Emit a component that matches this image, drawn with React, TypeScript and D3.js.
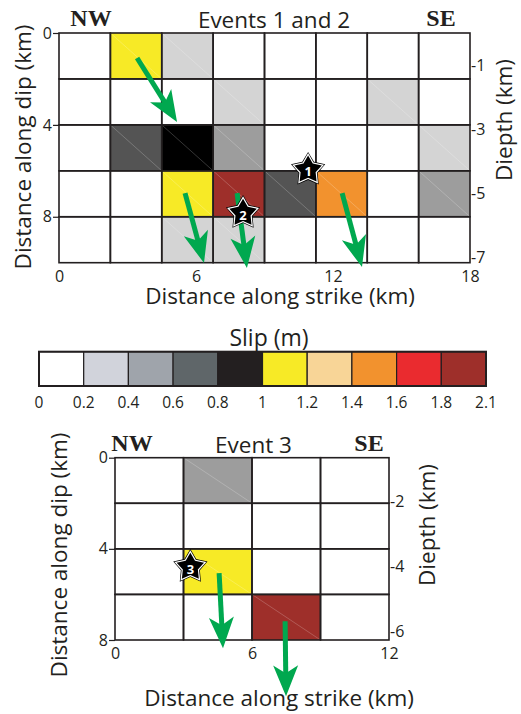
import React, { useEffect, useRef } from 'react';
import * as d3 from 'd3';

const W = 521;
const H = 714;
const FONT = '"Open Sans", "Noto Sans", sans-serif';

// colour bar
const slipBreaks = [0, 0.2, 0.4, 0.6, 0.8, 1, 1.2, 1.4, 1.6, 1.8, 2.1];
const barColors = ['#ffffff', '#d1d3db', '#9fa4ab', '#5f6669', '#231f20', '#f7ea26', '#f8d597', '#f2922e', '#ea2b2f', '#9e2f2a'];
const cellColors = ['#ffffff', '#d4d4d4', '#9d9d9d', '#545454', '#000000', '#f7ea26', '#f8d597', '#f2922e', '#ea2b2f', '#9e2f2a'];

// slip (m) per patch, rows = down dip, cols = along strike
const slipEvents12 = [
  [0, 1.1, 0.3, 0, 0, 0, 0, 0],
  [0, 0, 0, 0.3, 0, 0, 0.3, 0],
  [0, 0.7, 0.9, 0.5, 0, 0, 0, 0.3],
  [0, 0, 1.1, 1.95, 0.7, 1.5, 0, 0.5],
  [0, 0, 0.3, 0.3, 0, 0, 0, 0],
];
const slipEvent3 = [
  [0, 0.5, 0, 0],
  [0, 0, 0, 0],
  [0, 1.1, 0, 0],
  [0, 0, 1.95, 0],
];

// slip vectors [x1, y1, x2, y2] in km (strike, dip)
const arrowsEvents12 = [
  [3.42, 1.09, 5.17, 3.87],
  [5.52, 6.97, 6.35, 10.01],
  [7.8, 6.97, 8.23, 10.23],
  [12.4, 6.97, 13.27, 10.19],
];
const arrowsEvent3 = [
  [4.56, 5.07, 4.73, 8.36],
  [7.45, 7.18, 7.49, 10.47],
];

// hypocentres [strike, dip, label]
const starsEvents12: [number, number, string][] = [
  [10.91, 5.96, '1'],
  [8.06, 7.84, '2'],
];
const starsEvent3: [number, number, string][] = [[3.3, 4.8, '3']];

const strikeTicks12 = [0, 6, 12, 18];
const dipTicks12 = [0, 4, 8];
const depthTicks12 = [-1, -3, -5, -7];
const strikeTicks3 = [0, 6, 12];
const dipTicks3 = [0, 4, 8];
const depthTicks3 = [-2, -4, -6];

function starPath(R: number, r: number) {
  const pts = d3.range(10).map(i => {
    const a = -Math.PI / 2 + (i * Math.PI) / 5;
    const rr = i % 2 === 0 ? R : r;
    return [rr * Math.cos(a), rr * Math.sin(a)];
  });
  return 'M' + pts.map(p => p.join(',')).join('L') + 'Z';
}

function drawPanel(svg: any, o: any) {
  const g = svg.append('g');
  const nRows = o.slip.length;
  const nCols = o.slip[0].length;
  const x = d3.scaleLinear().domain([0, o.strikeMax]).range([o.x0, o.x1]);
  const y = d3.scaleLinear().domain([0, o.dipMax]).range([o.y0, o.y1]);
  const depth = d3.scaleLinear().domain(o.depthDomain).range([o.y0, o.y1]);
  const color = d3.scaleThreshold<number, string>().domain(slipBreaks.slice(1, -1)).range(cellColors);
  const cw = o.strikeMax / nCols;
  const rh = o.dipMax / nRows;

  const cells = o.slip.flatMap((row: number[], r: number) => row.map((v, c) => ({ r, c, v })));

  g.selectAll('rect.cell')
    .data(cells)
    .enter()
    .append('rect')
    .attr('x', (d: any) => x(d.c * cw))
    .attr('y', (d: any) => y(d.r * rh))
    .attr('width', (d: any) => x((d.c + 1) * cw) - x(d.c * cw))
    .attr('height', (d: any) => y((d.r + 1) * rh) - y(d.r * rh))
    .attr('fill', (d: any) => color(d.v));

  // faint triangulation seam on filled patches
  g.selectAll('line.seam')
    .data(cells.filter((d: any) => d.v > 0.2))
    .enter()
    .append('line')
    .attr('x1', (d: any) => x(d.c * cw))
    .attr('y1', (d: any) => y(d.r * rh))
    .attr('x2', (d: any) => x((d.c + 1) * cw))
    .attr('y2', (d: any) => y((d.r + 1) * rh))
    .attr('stroke', '#fff')
    .attr('stroke-opacity', 0.35)
    .attr('stroke-width', 0.6);

  g.selectAll('rect.grid')
    .data(cells)
    .enter()
    .append('rect')
    .attr('x', (d: any) => x(d.c * cw))
    .attr('y', (d: any) => y(d.r * rh))
    .attr('width', (d: any) => x((d.c + 1) * cw) - x(d.c * cw))
    .attr('height', (d: any) => y((d.r + 1) * rh) - y(d.r * rh))
    .attr('fill', 'none')
    .attr('stroke', '#231f20')
    .attr('stroke-width', 1.6);

  // axes
  const styleAxis = (a: any) => {
    a.selectAll('text').attr('font-size', 16).attr('font-family', FONT).attr('fill', '#231f20');
    a.selectAll('line').attr('stroke', '#231f20').attr('stroke-width', 1.2);
    a.select('.domain').remove();
  };
  g.append('g')
    .attr('transform', `translate(${o.x0},0)`)
    .call(d3.axisLeft(y).tickValues(o.dipTicks).tickSize(6).tickPadding(1).tickFormat(d3.format('d')))
    .call(styleAxis);
  g.append('g')
    .attr('transform', `translate(0,${o.y1})`)
    .call(d3.axisBottom(x).tickValues(o.strikeTicks).tickSize(0).tickPadding(8).tickFormat(d3.format('d')))
    .call(styleAxis);
  g.append('g')
    .attr('transform', `translate(${o.x1},0)`)
    .call(d3.axisRight(depth).tickValues(o.depthTicks).tickSize(0).tickPadding(1).tickFormat((d: any) => `${d}`))
    .call(styleAxis);

  // headings
  const serif = (t: string, cx: number) =>
    g.append('text')
      .attr('x', cx)
      .attr('y', o.headY)
      .attr('text-anchor', 'middle')
      .attr('font-family', '"Liberation Serif", "Times New Roman", serif')
      .attr('font-weight', 'bold')
      .attr('font-size', 24)
      .attr('fill', '#231f20')
      .text(t);
  serif('NW', o.nwX);
  serif('SE', o.seX);
  g.append('text')
    .attr('x', o.titleX)
    .attr('y', o.headY + 2)
    .attr('text-anchor', 'middle')
    .attr('font-family', FONT)
    .attr('font-size', 22.5)
    .attr('fill', '#231f20')
    .text(o.title);

  const label = (t: string, cx: number, cy: number, rot: number) =>
    g.append('text')
      .attr('transform', `translate(${cx},${cy}) rotate(${rot})`)
      .attr('text-anchor', 'middle')
      .attr('dominant-baseline', 'central')
      .attr('font-family', FONT)
      .attr('font-size', 22.5)
      .attr('fill', '#231f20')
      .text(t);
  label('Distance along strike (km)', o.xTitle[0], o.xTitle[1], 0);
  label('Distance along dip (km)', o.yTitle[0], o.yTitle[1], -90);
  label('Diepth (km)', o.dTitle[0], o.dTitle[1], -90);

  // slip vectors
  const green = '#00a84f';
  o.arrows.forEach((a: number[]) => {
    const p1 = [x(a[0]), y(a[1])];
    const p2 = [x(a[2]), y(a[3])];
    const ang = (Math.atan2(p2[1] - p1[1], p2[0] - p1[0]) * 180) / Math.PI;
    const len = Math.hypot(p2[0] - p1[0], p2[1] - p1[1]);
    const ag = g.append('g').attr('transform', `translate(${p1[0]},${p1[1]}) rotate(${ang})`);
    ag.append('line').attr('x1', 0).attr('y1', 0).attr('x2', len - 20).attr('y2', 0)
      .attr('stroke', green).attr('stroke-width', 5);
    ag.append('path')
      .attr('d', `M${len},0L${len - 31},${-12.5}L${len - 23},0L${len - 31},12.5Z`)
      .attr('fill', green);
  });

  // hypocentres: black star, white rim, thin black edge
  const outer = starPath(18, 10);
  const rim = starPath(16.8, 9.2);
  const core = starPath(14.4, 7.9);
  o.stars.forEach((s: any) => {
    const sg = g.append('g').attr('transform', `translate(${x(s[0])},${y(s[1])})`);
    sg.append('path').attr('d', outer).attr('fill', '#000');
    sg.append('path').attr('d', rim).attr('fill', '#fff');
    sg.append('path').attr('d', core).attr('fill', '#000');
    sg.append('text')
      .attr('y', 1.5)
      .attr('text-anchor', 'middle')
      .attr('dominant-baseline', 'central')
      .attr('font-family', FONT)
      .attr('font-weight', 'bold')
      .attr('font-size', 13)
      .attr('fill', '#fff')
      .text(s[2]);
  });
}

export default function App() {
  const svgRef = useRef<SVGSVGElement>(null);

  useEffect(() => {
    const svg = d3.select(svgRef.current);
    svg.selectAll('*').remove();

    svg.append('rect').attr('width', W).attr('height', H).attr('fill', '#fff');

    drawPanel(svg, {
      slip: slipEvents12, strikeMax: 18, dipMax: 10, depthDomain: [0, -7.17],
      x0: 59, x1: 470, y0: 33, y1: 262.7,
      strikeTicks: strikeTicks12, dipTicks: dipTicks12, depthTicks: depthTicks12,
      headY: 26, nwX: 91, seX: 441, titleX: 274, title: 'Events 1 and 2',
      xTitle: [280, 295], yTitle: [22, 147], dTitle: [503, 120],
      arrows: arrowsEvents12, stars: starsEvents12,
    });

    // colour bar
    const bx = d3.scalePoint<string>().domain(slipBreaks.map(String)).range([39, 486]);
    const by0 = 351.7;
    const by1 = 386;
    const bar = svg.append('g');
    bar.selectAll('rect')
      .data(barColors)
      .enter()
      .append('rect')
      .attr('x', (d, i) => bx(String(slipBreaks[i]))!)
      .attr('y', by0)
      .attr('width', (d, i) => bx(String(slipBreaks[i + 1]))! - bx(String(slipBreaks[i]))!)
      .attr('height', by1 - by0)
      .attr('fill', d => d)
      .attr('stroke', '#231f20')
      .attr('stroke-width', 1.2);
    bar.append('rect')
      .attr('x', 39).attr('y', by0).attr('width', 447).attr('height', by1 - by0)
      .attr('fill', 'none').attr('stroke', '#231f20').attr('stroke-width', 2);
    bar.selectAll('text.tick')
      .data(slipBreaks)
      .enter()
      .append('text')
      .attr('x', d => bx(String(d))!)
      .attr('y', 402)
      .attr('text-anchor', 'middle')
      .attr('dominant-baseline', 'central')
      .attr('font-family', FONT)
      .attr('font-size', 15.5)
      .attr('fill', '#231f20')
      .text(d => String(d));
    bar.append('text')
      .attr('x', 269).attr('y', 337)
      .attr('text-anchor', 'middle')
      .attr('dominant-baseline', 'central')
      .attr('font-family', FONT)
      .attr('font-size', 23)
      .attr('fill', '#231f20')
      .text('Slip (m)');

    drawPanel(svg, {
      slip: slipEvent3, strikeMax: 12, dipMax: 8, depthDomain: [-0.67, -6.28],
      x0: 115, x1: 389, y0: 457.7, y1: 640,
      strikeTicks: strikeTicks3, dipTicks: dipTicks3, depthTicks: depthTicks3,
      headY: 451, nwX: 132, seX: 369, titleX: 253.5, title: 'Event 3',
      xTitle: [279, 697], yTitle: [58, 555], dTitle: [426, 525],
      arrows: arrowsEvent3, stars: starsEvent3,
    });
  }, []);

  return (
    <div style={{ position: 'absolute', left: 0, top: 0 }}>
      <svg ref={svgRef} width={W} height={H} style={{ display: 'block' }} />
    </div>
  );
}
